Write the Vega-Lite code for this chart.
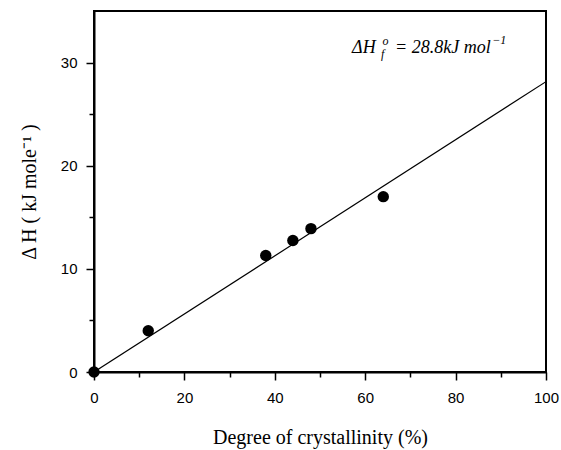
{
  "$schema": "https://vega.github.io/schema/vega-lite/v6.json",
  "width": 452,
  "height": 361,
  "autosize": {"type": "none"},
  "padding": {"left": 94, "top": 11, "right": 15, "bottom": 78},
  "background": "white",
  "config": {
    "view": {"stroke": "black", "strokeWidth": 2},
    "axis": {
      "domainColor": "black",
      "domainWidth": 2,
      "tickColor": "black",
      "tickWidth": 1.5,
      "grid": false,
      "labelFont": "Liberation Sans",
      "labelFontSize": 15,
      "labelColor": "black",
      "titleFont": "Liberation Serif",
      "titleFontSize": 20,
      "titleFontWeight": "normal",
      "titleColor": "black"
    }
  },
  "datasets": {
    "pts": [
      {"crystallinity": 0, "dH": 0},
      {"crystallinity": 12, "dH": 4.0},
      {"crystallinity": 38, "dH": 11.3},
      {"crystallinity": 44, "dH": 12.75},
      {"crystallinity": 48, "dH": 13.9},
      {"crystallinity": 64, "dH": 17.0}
    ],
    "fit": [
      {"crystallinity": 0, "dH": 0},
      {"crystallinity": 100, "dH": 28.15}
    ],
    "labelBig": [
      {"x": 57.1, "y": 30.93, "t": "ΔH"},
      {"x": 66.6, "y": 30.93, "t": "= 28.8kJ  mol"}
    ],
    "labelSmall": [
      {"x": 63.8, "y": 31.75, "t": "o"},
      {"x": 63.5, "y": 30.44, "t": "f"},
      {"x": 88.1, "y": 31.8, "t": "−1"}
    ]
  },
  "layer": [
    {
      "data": {"name": "fit"},
      "mark": {"type": "line", "color": "black", "strokeWidth": 1.2, "clip": true},
      "encoding": {
        "x": {
          "field": "crystallinity",
          "type": "quantitative",
          "scale": {"domain": [0, 100], "nice": false},
          "axis": {
            "title": "Degree of crystallinity (%)",
            "titlePadding": 22,
            "values": [0, 10, 20, 30, 40, 50, 60, 70, 80, 90, 100],
            "labelExpr": "datum.value % 20 == 0 ? datum.label : ''",
            "tickSize": {"condition": {"test": "datum.value % 20 == 0", "value": 8}, "value": 5},
            "labelPadding": 10,
            "labelFlush": false
          }
        },
        "y": {
          "field": "dH",
          "type": "quantitative",
          "scale": {"domain": [0, 35], "nice": false},
          "axis": {
            "title": "Δ H ( kJ mole⁻¹ )",
            "titlePadding": 21,
            "values": [0, 5, 10, 15, 20, 25, 30],
            "labelExpr": "datum.value % 10 == 0 ? datum.label : ''",
            "tickSize": {"condition": {"test": "datum.value % 10 == 0", "value": 8}, "value": 5},
            "labelPadding": 9,
            "labelFlush": false
          }
        }
      }
    },
    {
      "data": {"name": "pts"},
      "mark": {"type": "point", "filled": true, "color": "black", "opacity": 1, "size": 130, "clip": false},
      "encoding": {
        "x": {"field": "crystallinity", "type": "quantitative"},
        "y": {"field": "dH", "type": "quantitative"}
      }
    },
    {
      "data": {"name": "labelBig"},
      "mark": {"type": "text", "align": "left", "baseline": "alphabetic", "font": "Liberation Serif", "fontStyle": "italic", "fontSize": 18, "color": "black"},
      "encoding": {
        "x": {"field": "x", "type": "quantitative"},
        "y": {"field": "y", "type": "quantitative"},
        "text": {"field": "t"}
      }
    },
    {
      "data": {"name": "labelSmall"},
      "mark": {"type": "text", "align": "left", "baseline": "alphabetic", "font": "Liberation Serif", "fontStyle": "italic", "fontSize": 12, "color": "black"},
      "encoding": {
        "x": {"field": "x", "type": "quantitative"},
        "y": {"field": "y", "type": "quantitative"},
        "text": {"field": "t"}
      }
    }
  ]
}
